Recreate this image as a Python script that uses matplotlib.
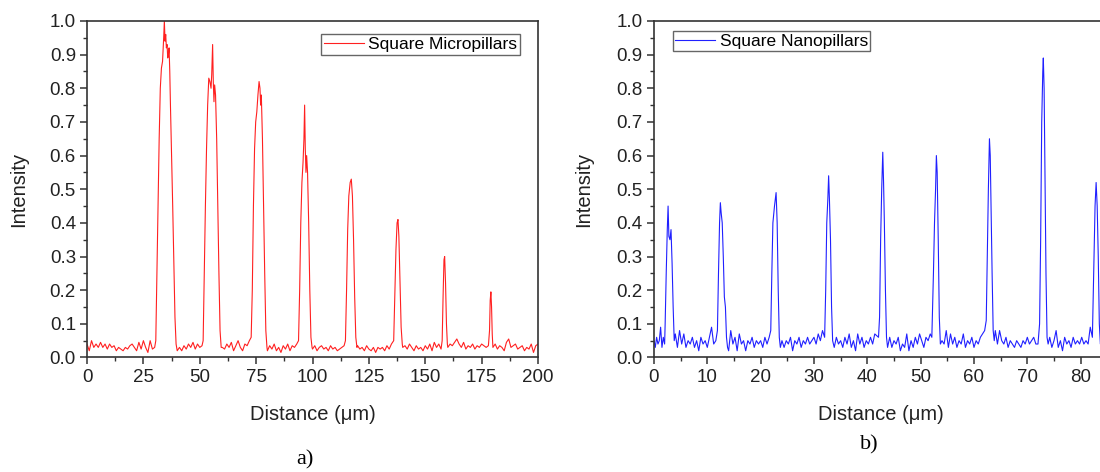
import numpy as np
import matplotlib.pyplot as plt
from matplotlib.ticker import MultipleLocator

# line profile a) square micropillars
micro_x = [0, 1, 2, 3, 4, 5, 6, 7, 8, 9, 10, 11, 12, 13, 14, 15, 16, 17, 18, 19, 20,
           21, 22, 23, 24, 25, 26, 27, 28, 29, 30,
           30.5, 31, 31.5, 32, 32.5, 33, 33.5, 34, 34.3, 34.6, 34.9, 35.2, 35.5, 35.8, 36.1,
           36.4, 36.7, 37, 37.5, 38, 38.5, 39, 39.5, 40,
           41, 42, 43, 44, 45, 46, 47, 48, 49, 50, 51,
           51.5, 52, 52.5, 53, 53.5, 54, 54.5, 55, 55.3, 55.7, 56, 56.3, 56.6, 57, 57.5, 58,
           58.5, 59, 59.5,
           60, 61, 62, 63, 64, 65, 66, 67, 68, 69, 70, 71, 72,
           72.8, 73.3, 73.8, 74.3, 74.8, 75.3, 75.8, 76.3, 76.7, 77, 77.3, 77.8, 78.3, 78.8,
           79.3, 79.8,
           80, 81, 82, 83, 84, 85, 86, 87, 88, 89, 90, 91, 92, 93,
           93.8, 94.3, 94.8, 95.3, 95.8, 96.2, 96.5, 96.8, 97.1, 97.4, 97.8, 98.3, 98.8, 99.3,
           99.8,
           100, 101, 102, 103, 104, 105, 106, 107, 108, 109, 110, 111, 112, 113, 114,
           114.6, 115.1, 115.6, 116.1, 116.7, 117.2, 117.7, 118.2, 118.7, 119.2, 119.7,
           120, 121, 122, 123, 124, 125, 126, 127, 128, 129, 130, 131, 132, 133, 134, 135,
           136, 136.5, 137, 137.5, 137.9, 138.3, 138.8, 139.3, 139.8,
           140, 141, 142, 143, 144, 145, 146, 147, 148, 149, 150, 151, 152, 153, 154, 155,
           156, 157,
           157.5, 157.9, 158.3, 158.6, 159, 159.4, 159.8,
           160, 161, 162, 163, 164, 165, 166, 167, 168, 169, 170, 171, 172, 173, 174, 175,
           176, 177, 178,
           178.5, 178.8, 179.1, 179.4, 179.7, 180,
           181, 182, 183, 184, 185, 186, 187, 188, 189, 190, 191, 192, 193, 194, 195, 196,
           197, 198, 199, 200]
micro_y = [0.04, 0.02, 0.05, 0.03, 0.04, 0.03, 0.045, 0.03, 0.04, 0.025, 0.04, 0.03, 0.035,
           0.02, 0.03, 0.025, 0.02, 0.03, 0.025, 0.035, 0.04, 0.03, 0.02, 0.045, 0.025, 0.05,
           0.03, 0.015, 0.05, 0.025, 0.03,
           0.05, 0.25, 0.45, 0.65, 0.80, 0.86, 0.88, 0.95, 1.00, 0.94, 0.96, 0.92, 0.93, 0.89,
           0.90, 0.92, 0.85, 0.75, 0.60, 0.45, 0.28, 0.12, 0.04, 0.02,
           0.03, 0.02, 0.035, 0.025, 0.04, 0.03, 0.045, 0.025, 0.04, 0.03, 0.035,
           0.05, 0.25, 0.45, 0.62, 0.75, 0.83, 0.82, 0.80, 0.84, 0.93, 0.82, 0.76, 0.81, 0.78,
           0.65, 0.45, 0.25, 0.08, 0.03,
           0.03, 0.025, 0.04, 0.03, 0.045, 0.02, 0.035, 0.05, 0.03, 0.02, 0.04, 0.035, 0.05,
           0.06, 0.2, 0.45, 0.62, 0.70, 0.73, 0.78, 0.82, 0.80, 0.75, 0.78, 0.65, 0.45, 0.25,
           0.08, 0.03,
           0.02, 0.035, 0.025, 0.04, 0.02, 0.03, 0.015, 0.035, 0.025, 0.04, 0.02, 0.035, 0.03,
           0.04,
           0.05, 0.2, 0.40, 0.52, 0.58, 0.65, 0.75, 0.62, 0.55, 0.60, 0.55, 0.40, 0.20, 0.06,
           0.03,
           0.025, 0.035, 0.02, 0.03, 0.035, 0.025, 0.03, 0.02, 0.035, 0.025, 0.03, 0.02, 0.025,
           0.03, 0.035,
           0.05, 0.2, 0.38, 0.48, 0.52, 0.53, 0.48, 0.35, 0.18, 0.06, 0.03,
           0.035, 0.025, 0.03, 0.02, 0.035, 0.025, 0.02, 0.03, 0.015, 0.03, 0.025, 0.03, 0.02,
           0.035, 0.025, 0.04,
           0.05, 0.18, 0.32, 0.40, 0.41, 0.36, 0.22, 0.09, 0.04,
           0.03, 0.035, 0.025, 0.04, 0.03, 0.02, 0.035, 0.025, 0.03, 0.02, 0.035, 0.025, 0.04,
           0.02, 0.045, 0.03, 0.04, 0.025,
           0.05, 0.18, 0.29, 0.30, 0.22, 0.1, 0.04,
           0.03, 0.04, 0.035, 0.045, 0.055, 0.04, 0.03, 0.045, 0.025, 0.035, 0.03, 0.04, 0.025,
           0.035, 0.03, 0.04, 0.035, 0.03, 0.035,
           0.08, 0.17, 0.195, 0.15, 0.07, 0.03,
           0.04, 0.025, 0.035, 0.03, 0.02, 0.045, 0.055, 0.03, 0.035, 0.04, 0.025, 0.03, 0.035,
           0.02, 0.03, 0.025, 0.04, 0.015, 0.035, 0.04]

# line profile b) square nanopillars
nano_x = [0, 0.25, 0.5, 0.75, 1, 1.25, 1.5, 1.75, 2,
          2.1, 2.3, 2.5, 2.65, 2.8, 3.0, 3.2, 3.4, 3.6, 3.8,
          4, 4.4, 4.8, 5.2, 5.6, 6, 6.4, 6.8, 7.2, 7.6, 8, 8.4, 8.8, 9.2, 9.6, 10, 10.4, 10.8,
          11.2, 11.6,
          11.9, 12.1, 12.3, 12.45, 12.6, 12.8, 13.0, 13.2, 13.4, 13.6, 13.8,
          14, 14.4, 14.8, 15.2, 15.6, 16, 16.4, 16.8, 17.2, 17.6, 18, 18.4, 18.8, 19.2, 19.6,
          20, 20.4, 20.8, 21.2, 21.6,
          21.9, 22.1, 22.3, 22.6, 22.9, 23.1, 23.3, 23.5, 23.7,
          24, 24.4, 24.8, 25.2, 25.6, 26, 26.4, 26.8, 27.2, 27.6, 28, 28.4, 28.8, 29.2, 29.6,
          30, 30.4, 30.8, 31.2, 31.6,
          32, 32.2, 32.4, 32.6, 32.75, 32.9, 33.1, 33.3, 33.5,
          33.8, 34.2, 34.6, 35, 35.4, 35.8, 36.2, 36.6, 37, 37.4, 37.8, 38.2, 38.6, 39, 39.4,
          39.8, 40.2, 40.6, 41, 41.4,
          42.1, 42.3, 42.5, 42.7, 42.9, 43.05, 43.2, 43.4, 43.6, 43.8,
          44.2, 44.6, 45, 45.4, 45.8, 46.2, 46.6, 47, 47.4, 47.8, 48.2, 48.6, 49, 49.4, 49.8,
          50.2, 50.6, 51, 51.4, 51.8,
          52.1, 52.4, 52.6, 52.8, 52.95, 53.1, 53.3, 53.5, 53.7,
          54, 54.4, 54.8, 55.2, 55.6, 56, 56.4, 56.8, 57.2, 57.6, 58, 58.4, 58.8, 59.2, 59.6,
          60, 60.4, 60.8, 61.2, 61.6, 62,
          62.3, 62.5, 62.7, 62.9, 63.05, 63.2, 63.4, 63.6, 63.8,
          64, 64.4, 64.8, 65.2, 65.6, 66, 66.4, 66.8, 67.2, 67.6, 68, 68.4, 68.8, 69.2, 69.6,
          70, 70.4, 70.8, 71.2, 71.6, 72,
          72.3, 72.5, 72.7, 72.9, 73.0, 73.15, 73.3, 73.5, 73.7, 73.9,
          74.2, 74.6, 75, 75.4, 75.8, 76.2, 76.6, 77, 77.4, 77.8, 78.2, 78.6, 79, 79.4, 79.8,
          80.2, 80.6, 81, 81.4, 81.8,
          82.2, 82.5, 82.7, 82.9, 83.1, 83.3, 83.5, 83.7,
          84, 84.5, 85, 85.5, 86, 87, 88]
nano_y = [0.05, 0.03, 0.06, 0.04, 0.05, 0.09, 0.03, 0.06, 0.04,
          0.1, 0.25, 0.38, 0.45, 0.36, 0.35, 0.38, 0.28, 0.15, 0.05,
          0.07, 0.03, 0.08, 0.04, 0.07, 0.03, 0.05, 0.04, 0.06, 0.03, 0.05, 0.02, 0.06, 0.04,
          0.05, 0.03, 0.06, 0.09, 0.04, 0.05,
          0.08, 0.25, 0.40, 0.46, 0.43, 0.40, 0.30, 0.18, 0.15, 0.06, 0.03,
          0.02, 0.08, 0.04, 0.06, 0.02, 0.07, 0.04, 0.05, 0.02, 0.05, 0.04, 0.06, 0.03, 0.05,
          0.04, 0.05, 0.03, 0.06, 0.04, 0.06,
          0.08, 0.25, 0.40, 0.45, 0.49, 0.40, 0.20, 0.06, 0.03,
          0.05, 0.03, 0.05, 0.04, 0.06, 0.02, 0.05, 0.04, 0.06, 0.03, 0.05, 0.04, 0.06, 0.04,
          0.05, 0.06, 0.04, 0.07, 0.05, 0.08,
          0.06, 0.2, 0.40, 0.47, 0.54, 0.47, 0.35, 0.15, 0.05,
          0.03, 0.06, 0.04, 0.05, 0.03, 0.06, 0.04, 0.07, 0.03, 0.05, 0.02, 0.07, 0.04, 0.06,
          0.03, 0.05, 0.04, 0.06, 0.04, 0.07,
          0.06, 0.12, 0.35, 0.50, 0.61, 0.52, 0.40, 0.20, 0.06, 0.03,
          0.06, 0.03, 0.05, 0.04, 0.06, 0.02, 0.04, 0.03, 0.07, 0.02, 0.05, 0.03, 0.06, 0.04,
          0.07, 0.05, 0.03, 0.06, 0.05, 0.07,
          0.06, 0.25, 0.40, 0.50, 0.60, 0.55, 0.35, 0.12, 0.04,
          0.05, 0.04, 0.08, 0.03, 0.07, 0.04, 0.06, 0.03, 0.05, 0.04, 0.07, 0.03, 0.05, 0.04,
          0.06, 0.03, 0.05, 0.04, 0.06, 0.07, 0.08,
          0.11, 0.30, 0.50, 0.65, 0.60, 0.45, 0.25, 0.08, 0.05,
          0.08, 0.04, 0.08, 0.05, 0.04, 0.06, 0.03, 0.05, 0.04, 0.03, 0.05, 0.04, 0.03, 0.05,
          0.04, 0.06, 0.04, 0.05, 0.06, 0.04, 0.04,
          0.10, 0.35, 0.70, 0.85, 0.89, 0.80, 0.55, 0.25, 0.06, 0.04,
          0.06, 0.03, 0.05, 0.08, 0.03, 0.05, 0.02, 0.06, 0.04, 0.05, 0.03, 0.06, 0.04, 0.05,
          0.04, 0.06, 0.04, 0.05, 0.04, 0.09,
          0.06, 0.30, 0.45, 0.52, 0.45, 0.30, 0.10, 0.04,
          0.05, 0.04, 0.06, 0.03, 0.05, 0.04, 0.05]

plt.rcParams['font.family'] = ['Liberation Sans', 'DejaVu Sans']

fig = plt.figure(figsize=(11, 4.72), dpi=100)
# right panel runs past the figure edge, as in the cropped original
ax1 = fig.add_axes([0.0791, 0.2426, 0.410, 0.713])
ax2 = fig.add_axes([0.5945, 0.2426, 0.4267, 0.713])


def style_axis(ax, xmax, xmajor, label_x):
    ax.set_xlim(0, xmax)
    ax.set_ylim(0, 1.0)
    ax.xaxis.set_major_locator(MultipleLocator(xmajor))
    ax.xaxis.set_minor_locator(MultipleLocator(xmajor / 2))
    ax.yaxis.set_major_locator(MultipleLocator(0.1))
    ax.yaxis.set_minor_locator(MultipleLocator(0.05))
    ax.yaxis.set_major_formatter(plt.FormatStrFormatter('%.1f'))
    ax.tick_params(which='both', direction='out', top=False, right=False,
                   color='#333333', labelsize=13.5, labelcolor='#222222')
    ax.tick_params(which='major', length=5, width=1.1, pad=3)
    ax.tick_params(which='minor', length=3, width=1.0)
    for s in ax.spines.values():
        s.set_color('#333333')
        s.set_linewidth(1.2)
    ax.set_xlabel('Distance (μm)', fontsize=14.5, color='#222222')
    ax.set_ylabel('Intensity', fontsize=14.5, color='#222222')
    ax.xaxis.set_label_coords(label_x, -0.14)
    ax.yaxis.set_label_coords(-0.13, 0.5)


ax1.plot(micro_x, micro_y, color='#ff2020', lw=0.8, label='Square Micropillars')
style_axis(ax1, 200, 25, 0.5)
leg1 = ax1.legend(loc='upper right', bbox_to_anchor=(0.959, 0.96), fontsize=12.5,
                  fancybox=False, framealpha=1, edgecolor='#666666',
                  handlelength=2.3, borderpad=0.15, handletextpad=0.25, borderaxespad=0)
leg1.get_frame().set_linewidth(1.0)

ax2.plot(nano_x, nano_y, color='#2020ff', lw=0.8, label='Square Nanopillars')
style_axis(ax2, 88, 10, 0.484)
leg2 = ax2.legend(loc='upper left', bbox_to_anchor=(0.04, 0.97), fontsize=12.5,
                  fancybox=False, framealpha=1, edgecolor='#666666',
                  handlelength=2.3, borderpad=0.15, handletextpad=0.25, borderaxespad=0)
leg2.get_frame().set_linewidth(1.0)

fig.text(305 / 1100, 1 - 460 / 472, 'a)', fontsize=16, ha='center', va='center',
         family=['Liberation Serif', 'DejaVu Serif'])
fig.text(869 / 1100, 1 - 445 / 472, 'b)', fontsize=16, ha='center', va='center',
         family=['Liberation Serif', 'DejaVu Serif'])

fig.savefig('out.png', dpi=100)
